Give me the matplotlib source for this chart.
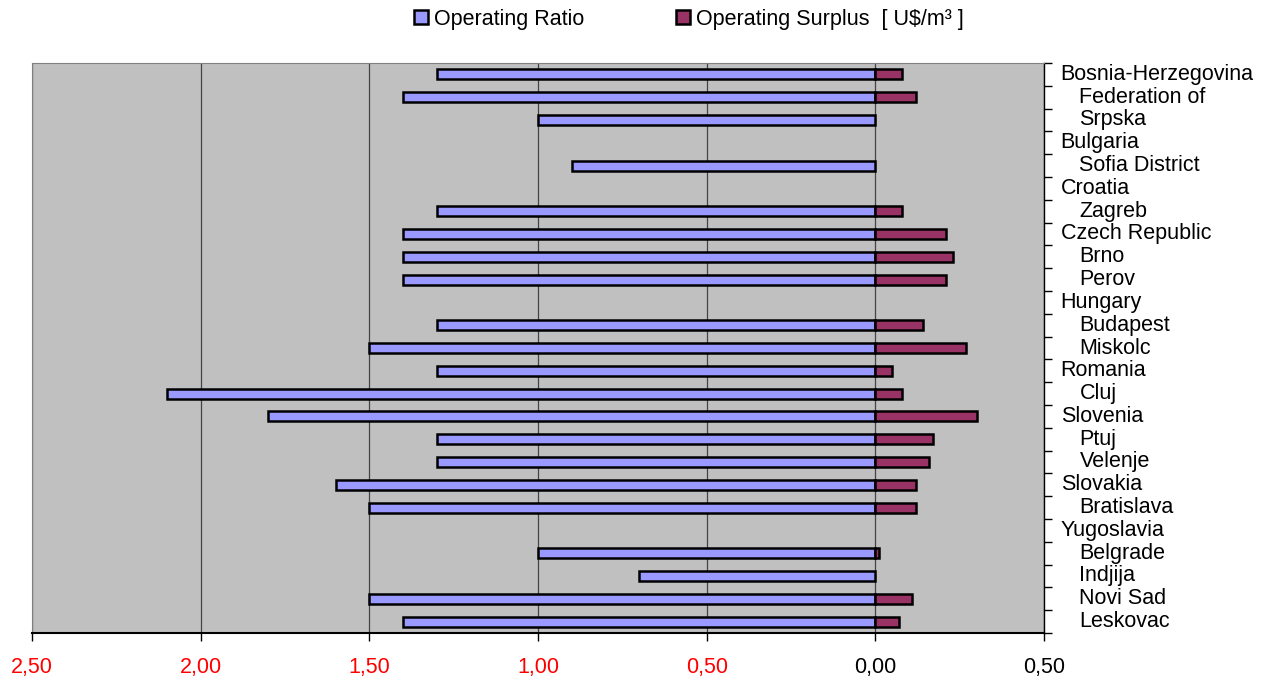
import matplotlib
matplotlib.use('Agg')
import matplotlib.pyplot as plt
import numpy as np
from matplotlib.ticker import FixedLocator
from matplotlib.patches import Patch

plt.rcParams['font.family'] = ['Liberation Sans', 'DejaVu Sans']

# regions (countries) and their cities, top to bottom
labels = ['Bosnia-Herzegovina', 'Federation of', 'Srpska', 'Bulgaria', 'Sofia District',
          'Croatia', 'Zagreb', 'Czech Republic', 'Brno', 'Perov', 'Hungary', 'Budapest',
          'Miskolc', 'Romania', 'Cluj', 'Slovenia', 'Ptuj', 'Velenje', 'Slovakia',
          'Bratislava', 'Yugoslavia', 'Belgrade', 'Indjija', 'Novi Sad', 'Leskovac']
countries = ['Bosnia-Herzegovina', 'Bulgaria', 'Croatia', 'Czech Republic', 'Hungary',
             'Romania', 'Slovenia', 'Slovakia', 'Yugoslavia']

op_ratio = [1.30, 1.40, 1.00, 0, 0.90, 0, 1.30, 1.40, 1.40, 1.40, 0, 1.30, 1.50,
            1.30, 2.10, 1.80, 1.30, 1.30, 1.60, 1.50, 0, 1.00, 0.70, 1.50, 1.40]
op_surplus = [0.08, 0.12, 0, 0, 0, 0, 0.08, 0.21, 0.23, 0.21, 0, 0.14, 0.27,
              0.05, 0.08, 0.30, 0.17, 0.16, 0.12, 0.12, 0, 0.01, 0, 0.11, 0.07]

x_ticks = [2.5, 2.0, 1.5, 1.0, 0.5, 0.0, -0.5]

c_ratio = '#9999FF'
c_surplus = '#993366'
fs = 15.5

fig = plt.figure(figsize=(12.73, 6.77), dpi=100)
ax = fig.add_axes([32/1273, 1-633/677, (1044-32)/1273, (633-63)/677])
ax.set_facecolor('#C0C0C0')

y = np.arange(len(labels))
h = 0.44
# ratio drawn towards the left (axis reversed), surplus towards the right
ratio = np.array(op_ratio)
surplus = -np.array(op_surplus)
mr = ratio != 0
ms = surplus != 0
ax.barh(y[mr], ratio[mr], height=h, color=c_ratio, edgecolor='black', linewidth=1.8, zorder=3)
ax.barh(y[ms], surplus[ms], height=h, color=c_surplus, edgecolor='black', linewidth=1.8, zorder=3)

ax.set_xlim(2.5, -0.5)
ax.set_ylim(len(labels)-0.5, -0.5)

ax.set_xticks(x_ticks)
ax.set_xticklabels(['{:.2f}'.format(abs(v)).replace('.', ',') for v in x_ticks], fontsize=fs)
ax.tick_params(axis='x', direction='out', length=6, width=1, pad=11, colors='black')
for lab, v in zip(ax.get_xticklabels(), x_ticks):
    lab.set_color('red' if v > 0 else 'black')
ax.grid(axis='x', color='#444444', linewidth=0.9, zorder=1)

# right side: ticks at band edges, labels as text
ax.yaxis.tick_right()
ax.yaxis.set_major_locator(FixedLocator(np.arange(-0.5, len(labels), 1.0)))
ax.set_yticklabels([])
ax.tick_params(axis='y', direction='out', length=6, width=1)
for i, name in enumerate(labels):
    dx = 12 if name in countries else 25.5
    ax.annotate(name, xy=(1, i), xycoords=('axes fraction', 'data'),
                xytext=(dx, 0), textcoords='offset points', ha='left', va='center',
                fontsize=fs)

for side in ['top', 'left']:
    ax.spines[side].set_color('#808080')
ax.spines['bottom'].set_linewidth(1.5)
ax.spines['right'].set_linewidth(1)

handles = [Patch(facecolor=c_ratio, edgecolor='black', linewidth=1.8, label='Operating Ratio'),
           Patch(facecolor=c_surplus, edgecolor='black', linewidth=1.8,
                 label='Operating Surplus  [ U$/m³ ]')]
fig.legend(handles=handles, loc='center', bbox_to_anchor=(689/1273, 1-19/677), ncol=2,
           frameon=False, fontsize=fs, handlelength=0.65, handleheight=0.65,
           handletextpad=0.3, columnspacing=4.25)

fig.savefig('out.png', dpi=100)
